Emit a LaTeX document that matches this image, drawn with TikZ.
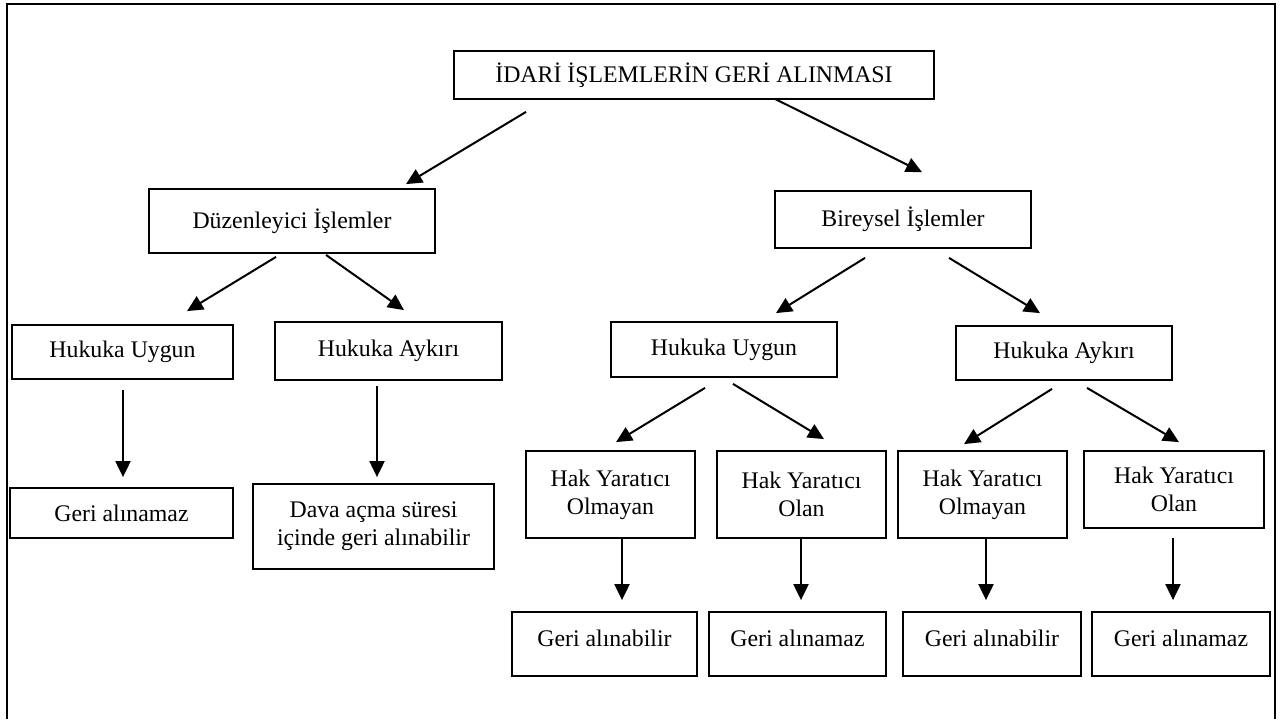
\documentclass[tikz,border=0pt]{standalone}
\usepackage{fontspec}
\setmainfont{Liberation Serif}
\usepackage{tikz}
\usetikzlibrary{arrows.meta,calc}

\tikzset{
  kutu/.style={draw,line width=0.9pt,inner sep=0pt,align=center,
    font=\fontsize{11.9}{14}\selectfont},
  sonuc/.style={kutu,minimum height=32pt,text height=8pt,text depth=6pt},
  ok/.style={-{Triangle[length=8pt,width=7.5pt]},line width=1pt},
}

\begin{document}
\begin{tikzpicture}[x=0.5pt,y=-0.5pt]
\useasboundingbox (0,0) rectangle (1280,719);
\draw[line width=1.3pt] (7,719) -- (7,4) -- (1275,4) -- (1275,719);

% ust seviye
\node[kutu,minimum width=240pt,minimum height=24pt] (idari) at (694,75) {İDARİ İŞLEMLERİN GERİ ALINMASI};
\node[kutu,minimum width=143pt,minimum height=32pt] (duz) at (292,221) {Düzenleyici İşlemler};
\node[kutu,minimum width=128pt,minimum height=28.5pt] (bir) at (903,219.5) {Bireysel İşlemler};

\node[kutu,minimum width=110.5pt,minimum height=27pt] (duzU) at (122.5,352) {Hukuka Uygun};
\node[kutu,minimum width=113.5pt,minimum height=29pt] (duzA) at (388.5,351) {Hukuka Aykırı};
\node[kutu,minimum width=113pt,minimum height=27.5pt] (birU) at (724,349.5) {Hukuka Uygun};
\node[kutu,minimum width=108pt,minimum height=27pt] (birA) at (1064,353) {Hukuka Aykırı};

\node[kutu,minimum width=111.5pt,minimum height=25pt] (duzUs) at (121.5,513) {Geri alınamaz};
\node[kutu,minimum width=120.5pt,minimum height=42.5pt] (duzAs) at (373.5,526.5) {Dava açma süresi\\içinde geri alınabilir};

\node[kutu,minimum width=84.5pt,minimum height=43.5pt] (uOlmayan) at (610.5,494.5) {Hak Yaratıcı\\Olmayan};
\node[kutu,minimum width=84.5pt,minimum height=43.5pt] (uOlan) at (801.5,494.5) {Hak Yaratıcı\\Olan};
\node[kutu,minimum width=84.5pt,minimum height=43.5pt] (aOlmayan) at (982.5,494.5) {Hak Yaratıcı\\Olmayan};
\node[kutu,minimum width=90pt,minimum height=38.5pt] (aOlan) at (1174,489.5) {Hak Yaratıcı\\Olan};

\node[sonuc,minimum width=92.5pt] (s1) at (604.5,644) {Geri alınabilir};
\node[sonuc,minimum width=88.5pt] (s2) at (797.5,644) {Geri alınamaz};
\node[sonuc,minimum width=89pt] (s3) at (992,644) {Geri alınabilir};
\node[sonuc,minimum width=89pt] (s4) at (1181,644) {Geri alınamaz};

% oklar
\draw[ok] ($(idari.south)+(-168,12)$) -- ($(duz.north)+(114,-4)$);
\draw[ok] ($(idari.south)+(81,-1)$) -- ($(bir.north)+(19,-18)$);
\draw[ok] ($(duz.south)+(-16,3)$) -- ($(duzU.north)+(64.5,-13)$);
\draw[ok] ($(duz.south)+(34,1)$) -- ($(duzA.north)+(15.5,-11)$);
\draw[ok] ($(bir.south)+(-38,9)$) -- ($(birU.north)+(52,-8)$);
\draw[ok] ($(bir.south)+(46,9)$) -- ($(birA.north)+(-24,-12)$);
\draw[ok] ($(birU.south)+(-19,10)$) -- ($(uOlmayan.north)+(5.5,-8)$);
\draw[ok] ($(birU.south)+(9,6)$) -- ($(uOlan.north)+(22.5,-11)$);
\draw[ok] ($(birA.south)+(-12,8)$) -- ($(aOlmayan.north)+(-18.5,-6)$);
\draw[ok] ($(birA.south)+(23,7)$) -- ($(aOlan.north)+(5,-8)$);

\draw[ok] ($(duzU.south)+(0.5,10)$) -- ($(duzUs.north)+(1.5,-10)$);
\draw[ok] ($(duzA.south)+(-11.5,5)$) -- ($(duzAs.north)+(3.5,-6)$);
\draw[ok] ($(uOlmayan.south)+(11.5,0)$) -- ($(s1.north)+(17.5,-11)$);
\draw[ok] ($(uOlan.south)+(-0.5,0)$) -- ($(s2.north)+(3.5,-11)$);
\draw[ok] ($(aOlmayan.south)+(3.5,0)$) -- ($(s3.north)+(-6,-11)$);
\draw[ok] ($(aOlan.south)+(-1,9)$) -- ($(s4.north)+(-8,-11)$);
\end{tikzpicture}
\end{document}
